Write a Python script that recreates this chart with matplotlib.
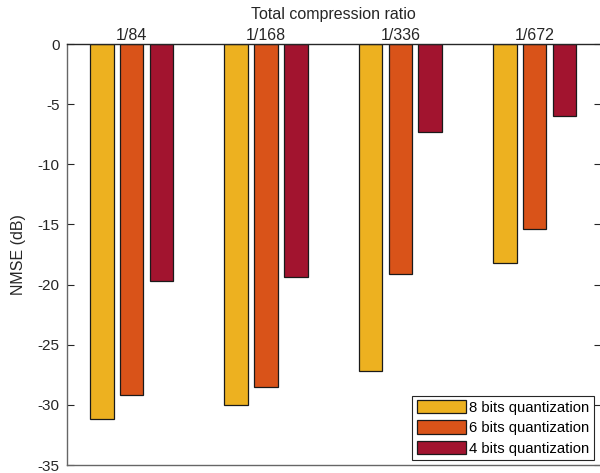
import matplotlib
matplotlib.use("Agg")
import matplotlib.pyplot as plt
import numpy as np

plt.rcParams['font.family'] = ['Liberation Sans', 'DejaVu Sans']

ratios = ["1/84", "1/168", "1/336", "1/672"]
series_names = ["8 bits quantization", "6 bits quantization", "4 bits quantization"]
nmse_8bit = [-31.2, -30.0, -27.2, -18.2]
nmse_6bit = [-29.2, -28.5, -19.1, -15.4]
nmse_4bit = [-19.7, -19.4, -7.3, -6.0]
colors = ["#EDB120", "#D95319", "#A2142F"]

W, H = 600, 473
fig = plt.figure(figsize=(W/100, H/100), dpi=100)
L, R, T, B = 66.5, 600.5, 44, 465
ax = fig.add_axes([L/W, 1 - B/H, (R-L)/W, (B-T)/H])

x = np.arange(1, len(ratios) + 1)
spacing = 0.223
bw = 0.176
for i, (vals, name, c) in enumerate(zip([nmse_8bit, nmse_6bit, nmse_4bit], series_names, colors)):
    ax.bar(x + (i - 1) * spacing, vals, width=bw, color=c, edgecolor='#1a1a1a',
           linewidth=0.9, label=name, zorder=2)

ax.set_xlim(0.515, 4.49)
ax.set_ylim(-35, 0)
ax.set_yticks(np.arange(-35, 1, 5))
ax.set_yticklabels([str(v) for v in range(-35, 1, 5)])
ax.xaxis.tick_top()
ax.xaxis.set_label_position('top')
ax.set_xticks(x)
ax.set_xticklabels(ratios)
ax.set_xlabel("Total compression ratio", fontsize=11.5, color='#262626', labelpad=6)
ax.set_ylabel("NMSE (dB)", fontsize=11.5, color='#262626', labelpad=8)
ax.tick_params(axis='x', length=0, pad=1, labelsize=11.5, colors='#262626')
ax.tick_params(axis='y', direction='in', length=5, labelsize=11, colors='#262626',
               right=True, width=0.8, pad=5)
for s in ['left', 'bottom', 'right']:
    ax.spines[s].set_color('#666666')
    ax.spines[s].set_linewidth(1.0)
ax.spines['top'].set_color('#262626')
ax.spines['top'].set_linewidth(1.0)

leg = ax.legend(loc='lower right', bbox_to_anchor=(594/W, 1 - 460/H),
                bbox_transform=fig.transFigure, fontsize=10.7, frameon=True,
                fancybox=False, framealpha=1, edgecolor='#262626',
                handlelength=3.3, handleheight=1.0, handletextpad=0.25,
                labelspacing=0.38, borderpad=0.3, borderaxespad=0)
leg.get_frame().set_linewidth(0.8)

fig.savefig("out.png", dpi=100)
